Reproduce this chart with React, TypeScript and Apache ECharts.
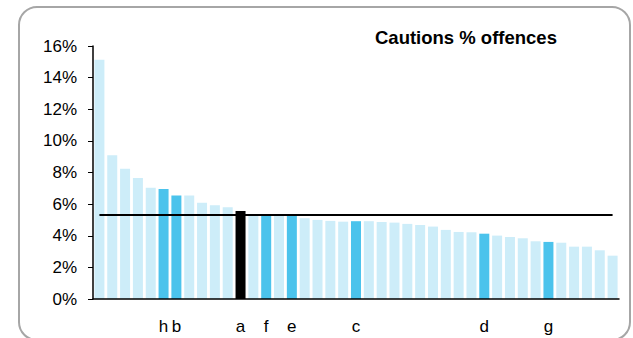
import React, { useEffect, useRef } from "react";
import * as echarts from "echarts";

const values = [
  15.13, 9.09, 8.23, 7.66, 7.03, 6.96, 6.54, 6.54, 6.08, 5.93, 5.8, 5.57, 5.27, 5.3, 5.27,
  5.27, 5.11, 5.0, 4.94, 4.89, 4.92, 4.92, 4.87, 4.83, 4.75, 4.68, 4.58, 4.37, 4.24, 4.22,
  4.13, 4.01, 3.92, 3.84, 3.65, 3.61, 3.56, 3.31, 3.31, 3.08, 2.74,
];
const labels = [
  "", "", "", "", "", "h", "b", "", "", "", "", "a", "", "f", "",
  "e", "", "", "", "", "c", "", "", "", "", "", "", "", "", "",
  "d", "", "", "", "", "g", "", "", "", "", "",
];
const highlighted = ["h", "b", "f", "e", "c", "d", "g"];
const black = ["a"];
const average = 5.32;
const title = "Cautions % offences";

export default function App() {
  const ref = useRef<HTMLDivElement>(null);
  useEffect(() => {
    document.body.style.margin = "0";
    const chart = echarts.init(ref.current!, null, { renderer: "svg" });
    const data = values.map((v, i) => ({
      value: v,
      itemStyle: {
        color: black.includes(labels[i])
          ? "#000000"
          : highlighted.includes(labels[i])
          ? "#4bc3ec"
          : "#cdedf9",
      },
    }));
    chart.setOption({
      animation: false,
      textStyle: { fontFamily: "Liberation Sans, Arial, sans-serif" },
      graphic: [
        {
          type: "rect",
          shape: { x: 19, y: 7, width: 611, height: 333, r: 18 },
          style: { fill: "none", stroke: "#a6a6a6", lineWidth: 2 },
          silent: true,
        },
        {
          type: "text",
          left: 375,
          top: 28,
          style: {
            text: title,
            fontSize: 18.5,
            fontWeight: "bold",
            fill: "#000",
            fontFamily: "Liberation Sans, Arial, sans-serif",
          },
        },
      ],
      grid: { left: 93, right: 14, top: 46, bottom: 39, containLabel: false },
      xAxis: {
        type: "category",
        data: labels,
        z: 5,
        axisLine: { lineStyle: { color: "#000", width: 1.5 } },
        axisTick: { show: false },
        axisLabel: {
          interval: 0,
          color: "#000",
          fontSize: 17,
          margin: 19,
        },
      },
      yAxis: {
        type: "value",
        min: 0,
        max: 16,
        interval: 2,
        z: 5,
        splitLine: { show: false },
        axisLine: { show: true, lineStyle: { color: "#000", width: 1.5 } },
        axisTick: { show: true, length: 5, lineStyle: { color: "#000" } },
        axisLabel: {
          formatter: (v: number) => `${v}%`,
          color: "#000",
          fontSize: 17,
          margin: 16,
        },
      },
      series: [
        {
          type: "bar",
          data,
          barWidth: 10,
          markLine: {
            silent: true,
            symbol: "none",
            label: { show: false },
            lineStyle: { color: "#000", width: 2, type: "solid" },
            data: [[{ coord: [0, average] }, { coord: [values.length - 1, average] }]],
          },
        },
      ],
    });
    return () => chart.dispose();
  }, []);
  return <div ref={ref} style={{ width: 633, height: 338 }} />;
}
